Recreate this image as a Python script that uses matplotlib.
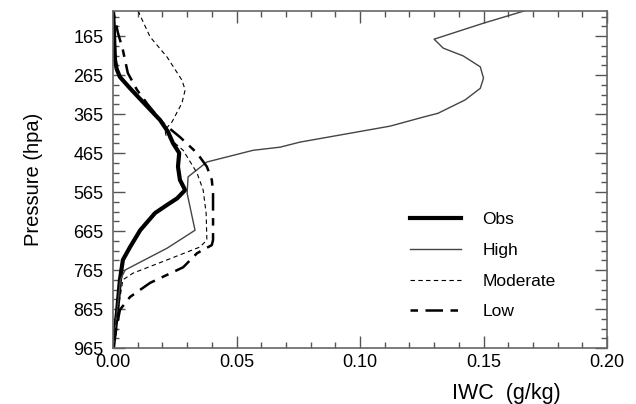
import matplotlib
matplotlib.use("Agg")
import matplotlib.pyplot as plt
import numpy as np
from matplotlib.ticker import FixedLocator, MultipleLocator, FormatStrFormatter

plt.rcParams['font.family'] = ['Liberation Sans', 'DejaVu Sans']

# perfiles de IWC (g/kg) vs presion (hPa)
p_obs = [100, 140, 180, 226, 250, 270, 299, 334, 380, 411, 440, 465, 500, 534,
         560, 581, 598, 619, 663, 706, 739, 790, 875, 965]
iwc_obs = [0.0, 0.0003, 0.0005, 0.0008, 0.0015, 0.0028, 0.0069, 0.0121, 0.019,
           0.0223, 0.0243, 0.0268, 0.0263, 0.0271, 0.0292, 0.026, 0.0219, 0.017,
           0.011, 0.0069, 0.004, 0.0028, 0.0016, 0.0]

p_high = [100, 132, 173, 196, 216, 244, 273, 299, 329, 363, 373, 396, 437, 450,
          458, 488, 526, 568, 663, 709, 765, 790, 875, 965]
iwc_high = [0.1668, 0.150, 0.130, 0.1337, 0.1418, 0.1487, 0.150, 0.1487, 0.1425,
            0.1316, 0.1255, 0.1122, 0.0757, 0.0676, 0.0567, 0.038, 0.0304, 0.030,
            0.0332, 0.0219, 0.0049, 0.003, 0.0016, 0.0]

p_mod = [100, 167, 219, 278, 303, 337, 385, 406, 420, 458, 516, 560, 619, 688,
         706, 739, 773, 790, 875, 965]
iwc_mod = [0.0101, 0.015, 0.0219, 0.0279, 0.0292, 0.0279, 0.0239, 0.021, 0.0215,
           0.0284, 0.034, 0.0365, 0.0377, 0.038, 0.0352, 0.0219, 0.0081, 0.004,
           0.0018, 0.0]

p_low = [100, 157, 201, 260, 303, 340, 388, 424, 465, 500, 534, 568, 688, 701,
         722, 758, 798, 834, 867, 910, 965]
iwc_low = [0.0, 0.002, 0.004, 0.006, 0.0097, 0.014, 0.0202, 0.0271, 0.034, 0.038,
           0.040, 0.0405, 0.0405, 0.040, 0.034, 0.0284, 0.015, 0.0069, 0.0028,
           0.0015, 0.0]

p_ticks = [165, 265, 365, 465, 565, 665, 765, 865, 965]

fig = plt.figure(figsize=(6.36, 4.04), dpi=100)
ax = fig.add_axes([0.1777, 0.1386, 0.7767, 0.8349])

ax.plot(iwc_obs, p_obs, color="black", lw=3.0, label="Obs")
ax.plot(iwc_high, p_high, color="#444444", lw=1.0, label="High")
ax.plot(iwc_mod, p_mod, color="black", lw=0.8, linestyle=(0, (4, 3)), label="Moderate")
ax.plot(iwc_low, p_low, color="black", lw=1.8, linestyle=(0, (3, 3, 7, 3)), label="Low")

ax.set_xlim(0, 0.2)
ax.set_ylim(965, 100)   # presion invertida

ax.xaxis.set_major_locator(MultipleLocator(0.05))
ax.xaxis.set_minor_locator(MultipleLocator(0.01))
ax.xaxis.set_major_formatter(FormatStrFormatter("%.2f"))
ax.yaxis.set_major_locator(FixedLocator(p_ticks))
ax.yaxis.set_minor_locator(FixedLocator(np.arange(115, 966, 25)))

ax.tick_params(which="both", direction="in", top=True, right=True,
               colors="#555555", labelcolor="black", labelsize=13)
ax.tick_params(which="major", length=8.5, width=1)
ax.tick_params(which="minor", length=4.3, width=1)
ax.tick_params(axis="x", pad=4)
ax.tick_params(axis="y", pad=7)

for s in ax.spines.values():
    s.set_color("#666666")
    s.set_linewidth(1.2)

ax.set_ylabel("Pressure (hpa)", fontsize=14.5)
ax.yaxis.set_label_coords(-0.142, 0.5)
ax.text(0.797, -0.136, "IWC  (g/kg)", transform=ax.transAxes,
        ha="center", va="center", fontsize=15.5)

ax.legend(loc="center left", bbox_to_anchor=(0.57, 0.244), frameon=False,
          fontsize=12.5, handlelength=2.9, handletextpad=1.25, labelspacing=0.9)

plt.savefig("out.png", dpi=100)
